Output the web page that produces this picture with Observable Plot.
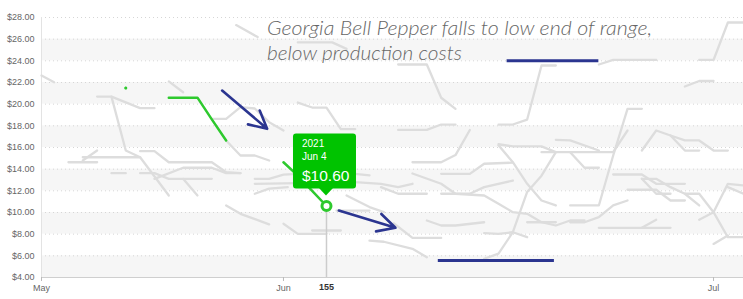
<!DOCTYPE html>
<html><head><meta charset="utf-8">
<script src="https://cdn.jsdelivr.net/npm/d3@7"></script>
<script src="https://cdn.jsdelivr.net/npm/@observablehq/plot@0.6"></script>
<style>
body{margin:0;background:#fff;}
#chart svg{display:block;}
</style></head><body><div id="chart"></div>
<script>
// ---- data (x = day of year 2021, y = price in $) ----
const xMin = 135.12, xMax = 184.09;
const yTicks = [4,6,8,10,12,14,16,18,20,22,24,26,28];
const bandStarts = [4,8,12,16,20,24];
const monthTicks = [135.12, 152, 182];
const monthLabels = ["May","Jun","Jul"];
const selectedDay = 155;
const selectedPrice = 10.6;
const selectedYear = "2021";
const selectedDate = "Jun 4";

// current season (green), null = no quote
const greenDays   = [141, 142, 143, 144, 145, 146, 147, 148, 149, 150, 151, 152, 153, 154, 155];
const greenPrices = [21.5, null, null, 20.6, 20.6, 20.6, 18.6, 16.65, null, null, null, 14.64, 13.4, 12.0, 10.6];

// range lines (navy)
const rangeStart = [167.6, 162.8];
const rangeEnd   = [174.0, 170.9];
const rangePrice = [24.0, 5.57];

// annotation arrows
const arrowFromDay = [147.72, 155.86];
const arrowFromPrice = [21.26, 10.18];
const arrowToDay = [150.86, 159.81];
const arrowToPrice = [17.73, 8.59];

// previous seasons (grey fragments): [day, price]
const greyLines = [
 [[135.12,22.65],[136,22.03]],
 [[139,20.7],[140,20.7],[142,19.63],[143,19.63]],
 [[140,20.7],[141,15.72],[142,15.1]],
 [[138,15.1],[142,15.1],[144,11.57]],
 [[138,14.8],[139,15.72]],
 [[137,14.64],[139,14.64]],
 [[142,15.66],[143,15.66],[144,14.64],[147,14.64],[148,13.72],[149,13.63]],
 [[140,13.63],[141,13.63]],
 [[142,13.63],[143,13.63],[144,13.11],[145,13.11],[146,11.57]],
 [[143,13.11],[145,14.13],[147,14.13],[148,13.63],[149,13.63]],
 [[145,13.11],[147,13.11]],
 [[147,18.65],[148,18.65],[149,19.72],[150,19.6],[151,18.34],[152,17.57]],
 [[144,22.1],[145,21.1]],
 [[148,16.65],[149,15.26],[150,15.26],[151,14.8]],
 [[148,10.65],[149,9.88],[151,8.9]],
 [[152,8.96],[153,8.03],[155,8.03]],
 [[154,8.34],[156,8.34]],
 [[150,13.11],[151,13.11],[152,13.5],[153,13.57],[157,13.57],[158,13.42]],
 [[150,12.65],[157,12.8],[158.8,12.65],[160,12.34],[161,12.65]],
 [[158.8,12.34],[160,11.73],[162,11.73]],
 [[150,11.73],[151,12.2],[152.3,12.34]],
 [[156.4,11.57],[158,10.5],[159,10.03]],
 [[155.7,10.18],[158,10.18]],
 [[153,20.15],[154,19.69],[155,19.69],[156,17.69],[157,17.69]],
 [[160,23.66],[162,23.66],[163,20.59],[164,19.57]],
 [[160,17.62],[162,17.62],[163,18.12],[164,18.12]],
 [[167,18.12],[168,18.12],[169,18.58],[170,23.57],[171,23.57]],
 [[174,23.66],[175,24.08],[178,24.08]],
 [[181,24.08],[182,24.08],[183,27.54],[184.09,27.54]],
 [[180,21.63],[181,22.14],[182,22.14]],
 [[172,10.65],[174,10.65],[175,15.26],[176,19.57],[177,19.57]],
 [[161,14.64],[163,14.64],[164,15.3],[165,17.62]],
 [[167,16.2],[168,14.64],[169,12.65],[170,11.11],[171,10.65]],
 [[167,16.3],[168,16.1],[170,16.1],[171,15.57]],
 [[170,15.57],[175,15.57],[176,17.57]],
 [[166,5.73],[167,6.2],[168,8.18],[169,11.9],[170,13.4],[171,15.57]],
 [[171,16.7],[172,16.65],[174,15.72]],
 [[172,15.57],[173,14.13],[174,14.13]],
 [[177,15.72],[178,17.57],[179,17.11],[180,16.65],[181,16.65],[182,15.72],[183,15.72]],
 [[179,17.11],[180,15.72],[181,15.72]],
 [[175,13.51],[177,13.51],[178,12.65],[180,12.65]],
 [[177,13.11],[178,13.11],[179,12.34],[180,11.73],[181,11.73],[182,10.03]],
 [[176,12.1],[178,12.1],[179,11.11],[180,11.11]],
 [[177,13.11],[178,11.73],[179,11.73]],
 [[180,11.73],[181,10.65]],
 [[181,9.33],[182,10.03],[183,12.65],[184.09,12.5]],
 [[183,12.34],[184.09,11.73]],
 [[182,10.03],[183,7.72],[184.09,7.72]],
 [[182,7.1],[183,7.88]],
 [[161,13.6],[163,12.65],[164,11.73],[166,11.57],[167,10.8],[168,10.03],[169,9.88],[170,9.1],[171,8.8],[172,9.26],[173,9.26]],
 [[169,9.1],[171,9.1]],
 [[172,9.1],[173,9.1],[174,9.57],[175,10.65],[176,11.11]],
 [[174,8.59],[177,8.59],[178,9.33]],
 [[177,8.59],[179,8.59]],
 [[162,9.26],[163,8.8],[164,8.8],[166,9.1]],
 [[159.7,9.0],[161,7.65],[163,7.65]],
 [[166,8.1],[167,8.03],[168,8.18],[169,7.72]],
 [[158,7.4],[159,7.3],[161,6.65],[162,5.87]],
 [[163,13.57],[165,13.57],[166,14.5],[168,14.6]],
 [[163,11.73],[165,11.73],[166,12.34],[168,12.95]],
 [[153,25.7],[155.4,25.7],[156.4,25.1]],
 [[148.7,27.3],[150.2,26.2]]
];

// ---- build tables ----
const greyRows = greyLines.flatMap((seg, i) => seg.map(([d, p]) => ({d, p, z: i})));
const greenRows = greenDays.map((d, i) => ({d, p: greenPrices[i]}));
const greenSingles = greenRows.filter((r, i) => r.p != null && (greenRows[i-1]?.p == null) && (greenRows[i+1]?.p == null));
const ranges = rangePrice.map((p, i) => ({x1: rangeStart[i], x2: rangeEnd[i], p}));
const arrows = arrowFromDay.map((d, i) => ({x1: d, y1: arrowFromPrice[i], x2: arrowToDay[i], y2: arrowToPrice[i]}));

const GREEN = "#2ec92e", TIPGREEN = "#00c300", NAVY = "#2b3590", GREY = "#dddddd";

const plot = Plot.plot({
  width: 743, height: 299,
  marginLeft: 41, marginRight: 0, marginTop: 17, marginBottom: 22,
  x: {domain: [xMin, xMax], axis: null},
  y: {domain: [4, 28], axis: null},
  style: {background: "#fff", fontFamily: "'Liberation Sans', Arial, sans-serif", overflow: "visible"},
  marks: [
    Plot.rect(bandStarts, {x1: xMin, x2: xMax, y1: d => d, y2: d => d + 2, fill: "#f6f6f6"}),
    Plot.ruleY(yTicks.slice(1), {stroke: "#d6d6d6", strokeDasharray: "1,3"}),
    Plot.ruleX([xMin], {stroke: "#e3e3e3"}),
    Plot.ruleY([4], {stroke: "#cfcfcf"}),
    Plot.axisY(yTicks, {tickSize: 0, tickPadding: 7, tickFormat: d => "$" + d.toFixed(2), fontSize: 9, fill: "#666"}),
    Plot.axisX(monthTicks, {tickSize: 4, tickPadding: 3, tickFormat: d => monthLabels[monthTicks.indexOf(d)], fontSize: 9, fill: "#666", stroke: "#bbb"}),
    Plot.text([selectedDay], {x: d => d, frameAnchor: "bottom", dy: 12, text: d => String(d), fontWeight: "bold", fontSize: 9, fill: "#333"}),
    Plot.line(greyRows, {x: "d", y: "p", z: "z", stroke: GREY, strokeWidth: 2.3}),
    Plot.ruleY(ranges, {x1: "x1", x2: "x2", y: "p", stroke: NAVY, strokeWidth: 3}),
    Plot.line(greenRows, {x: "d", y: "p", stroke: GREEN, strokeWidth: 2.5}),
    Plot.dot(greenSingles, {x: "d", y: "p", r: 1.5, fill: GREEN}),
    Plot.ruleX([selectedDay], {y1: 4, y2: selectedPrice, stroke: "#cccccc", strokeWidth: 1.5}),
    Plot.arrow(arrows, {x1: "x1", y1: "y1", x2: "x2", y2: "y2", stroke: NAVY, strokeWidth: 2.6, headLength: 14, headAngle: 55}),
    Plot.dot([{d: selectedDay, p: selectedPrice}], {x: "d", y: "p", r: 4.5, fill: "#fff", stroke: GREEN, strokeWidth: 3})
  ]
});

document.getElementById("chart").appendChild(plot);

// tooltip anchored via the plot's scales
const sx = plot.scale("x"), sy = plot.scale("y");
const cx = sx.apply(selectedDay), cy = sy.apply(selectedPrice);
const svg = d3.select(plot);
const tip = svg.append("g").attr("transform", `translate(${cx},${cy})`).attr("text-anchor", "start");
tip.append("rect").attr("x", -33).attr("y", -72).attr("width", 63).attr("height", 55).attr("rx", 3).attr("fill", TIPGREEN);
tip.append("path").attr("d", "M-7,-17.5 L7,-17.5 L0,-10 Z").attr("fill", TIPGREEN);
tip.append("text").attr("x", -24).attr("y", -59).attr("fill", "#fff").attr("font-size", 10).text(selectedYear);
tip.append("text").attr("x", -24).attr("y", -46).attr("fill", "#fff").attr("font-size", 10).text(selectedDate);
tip.append("text").attr("x", -24).attr("y", -25).attr("fill", "#fff").attr("font-size", 15.5).text("$" + selectedPrice.toFixed(2));

// headline annotation
const note = svg.append("g").attr("fill", "#666").attr("font-family", "Lato, 'Open Sans', sans-serif")
  .attr("text-anchor", "start")
  .attr("font-style", "italic").attr("font-weight", 300).attr("font-size", 20.5);
note.append("text").attr("x", 267).attr("y", 35).attr("textLength", 385).attr("lengthAdjust", "spacingAndGlyphs")
  .text("Georgia Bell Pepper falls to low end of range,");
note.append("text").attr("x", 267).attr("y", 60).attr("textLength", 195).attr("lengthAdjust", "spacingAndGlyphs")
  .text("below production costs");
</script></body></html>
